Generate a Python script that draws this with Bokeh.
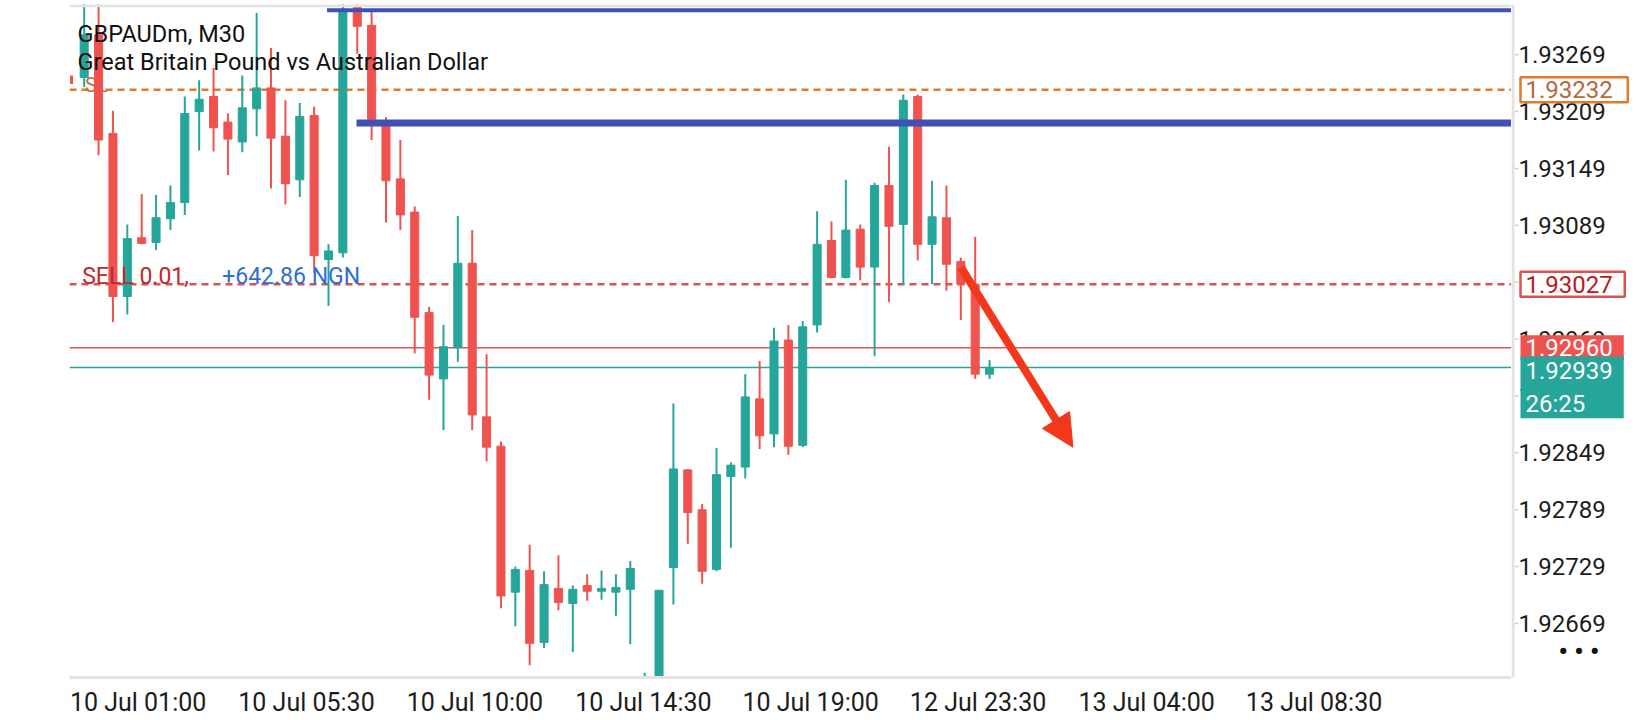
import numpy as np
from bokeh.plotting import figure
from bokeh.layouts import row
from bokeh.models import (Range1d, FixedTicker, Span, Label, Arrow, NormalHead,
                          ColumnDataSource)
from bokeh.core.properties import value
from bokeh.embed import file_html
from bokeh.resources import INLINE

# ---------------- data ----------------
opens = [1.93245, 1.93290, 1.93186, 1.93014, 1.93076, 1.93071, 1.93096, 1.93113,
         1.93209, 1.93225, 1.93198, 1.93177, 1.93212, 1.93234, 1.93183, 1.93137,
         1.93205, 1.93053, 1.93060, 1.93319, 1.93300, 1.93196, 1.93138, 1.93103,
         1.92997, 1.92927, 1.92960, 1.93049, 1.92887, 1.92856, 1.92702, 1.92725,
         1.92649, 1.92706, 1.92690, 1.92709, 1.92703, 1.92702, 1.92705, 1.92560,
         1.92590, 1.92728, 1.92831, 1.92789, 1.92726, 1.92824, 1.92834, 1.92906,
         1.92869, 1.92968, 1.92857, 1.92984, 1.93073, 1.93034, 1.93085, 1.93045,
         1.93131, 1.93090, 1.93225, 1.93069, 1.93097, 1.93051, 1.93027, 1.92932]
highs = [1.93325, 1.93325, 1.93210, 1.93090, 1.93122, 1.93121, 1.93131, 1.93225,
         1.93242, 1.93255, 1.93207, 1.93247, 1.93313, 1.93276, 1.93221, 1.93218,
         1.93214, 1.93069, 1.93326, 1.93326, 1.93314, 1.93203, 1.93179, 1.93109,
         1.93003, 1.92984, 1.93099, 1.93084, 1.92953, 1.92861, 1.92729, 1.92752,
         1.92724, 1.92741, 1.92709, 1.92721, 1.92725, 1.92721, 1.92735, 1.92617,
         1.92704, 1.92901, 1.92832, 1.92795, 1.92854, 1.92839, 1.92932, 1.92946,
         1.92981, 1.92984, 1.92988, 1.93104, 1.93093, 1.93137, 1.93090, 1.93134,
         1.93172, 1.93227, 1.93227, 1.93136, 1.93131, 1.93055, 1.93077, 1.92947]
lows = [1.93235, 1.93163, 1.92987, 1.92995, 1.93069, 1.93063, 1.93084, 1.93100,
        1.93168, 1.93167, 1.93142, 1.93166, 1.93183, 1.93128, 1.93111, 1.93119,
        1.93039, 1.93004, 1.93055, 1.93270, 1.93179, 1.93092, 1.93084, 1.92954,
        1.92905, 1.92873, 1.92945, 1.92873, 1.92840, 1.92685, 1.92666, 1.92625,
        1.92643, 1.92683, 1.92639, 1.92693, 1.92694, 1.92677, 1.92647, 1.92540,
        1.92560, 1.92689, 1.92753, 1.92711, 1.92724, 1.92749, 1.92822, 1.92853,
        1.92855, 1.92847, 1.92855, 1.92976, 1.93033, 1.93033, 1.93031, 1.92951,
        1.93008, 1.93026, 1.93052, 1.93027, 1.93020, 1.92989, 1.92927, 1.92927]
closes = [1.93290, 1.93179, 1.93014, 1.93075, 1.93070, 1.93097, 1.93113, 1.93207,
          1.93222, 1.93192, 1.93180, 1.93213, 1.93234, 1.93181, 1.93133, 1.93204,
          1.93057, 1.93062, 1.93317, 1.93299, 1.93201, 1.93136, 1.93100, 1.92992,
          1.92931, 1.92961, 1.93049, 1.92889, 1.92855, 1.92698, 1.92726, 1.92648,
          1.92710, 1.92691, 1.92705, 1.92703, 1.92706, 1.92707, 1.92727, 1.92600,
          1.92704, 1.92832, 1.92786, 1.92724, 1.92826, 1.92836, 1.92908, 1.92867,
          1.92967, 1.92856, 1.92982, 1.93069, 1.93034, 1.93084, 1.93045, 1.93131,
          1.93088, 1.93221, 1.93069, 1.93098, 1.93048, 1.93027, 1.92932, 1.92939]

x_tick_labels = ["10 Jul 01:00", "10 Jul 05:30", "10 Jul 10:00", "10 Jul 14:30",
                 "10 Jul 19:00", "12 Jul 23:30", "13 Jul 04:00", "13 Jul 08:30"]
x_label_start = [-1.02, 10.70, 22.42, 34.14, 45.78, 57.43, 69.16, 80.81]   # bar index where each label starts
y_tick_labels = ["1.92669", "1.92729", "1.92789", "1.92849", "1.92909", "1.92969",
                 "1.93029", "1.93089", "1.93149", "1.93209", "1.93269"]

sl_price = 1.93232       # orange dashed (SL)
open_price = 1.93027     # red dashed (SELL entry)
ask_price = 1.92960
bid_price = 1.92939
timer_text = "26:25"
trade_text = "SELL 0.01,"
profit_text = "+642.86 NGN"
level_start = [16.9, 18.95]        # bar index where the drawn levels begin
level_price = [1.93316, 1.93197]
arrow_from = (61.0, 1.93045)
arrow_to = (68.8, 1.92855)

# ---------------- styles / layout ----------------
TEAL = "#26a69a"
RED = "#ef5350"
BLUE = "#3f51b5"
ORANGE = "#e07b2c"
GRID = "#e3e3e3"
FONT = "Roboto"
Y0, Y1 = 1.92612, 1.93322
H = 719
TOP, BOTTOM = 4, 34
FRAME_H = H - TOP - BOTTOM
PX = FRAME_H / (Y1 - Y0)       # pixels per price unit

o = np.array(opens); h = np.array(highs); l = np.array(lows); c = np.array(closes)
xs = np.arange(len(o))
col = np.where(c >= o, TEAL, RED)
src = ColumnDataSource(dict(x=xs, high=h, low=l, top=np.maximum(o, c),
                            bottom=np.minimum(o, c), color=col))

yr = Range1d(Y0, Y1)
p = figure(width=1511, height=H, output_backend="svg", toolbar_location=None,
           x_range=Range1d(-1.023, 99.32), y_range=yr, y_axis_location=None,
           min_border_left=69, min_border_right=0, min_border_top=TOP,
           min_border_bottom=BOTTOM, background_fill_color="white",
           border_fill_color="white")
p.outline_line_color = None
p.xgrid.visible = False
p.ygrid.visible = False

def style_xaxis(fig, ticks, overrides, alpha=1.0):
    ax = fig.xaxis[0]
    ax.ticker = FixedTicker(ticks=ticks, minor_ticks=[])
    ax.major_label_overrides = overrides
    ax.major_tick_line_color = None
    ax.minor_tick_line_color = None
    ax.major_label_text_font = FONT
    ax.major_label_text_font_size = "25px"
    ax.major_label_text_color = "#1c1c1c"
    ax.major_label_text_alpha = alpha
    ax.major_label_standoff = 4

centers = [s + 4.77 for s in x_label_start]
style_xaxis(p, centers, {cx: lab for cx, lab in zip(centers, x_tick_labels)})
p.xaxis.axis_line_color = GRID
p.xaxis.axis_line_width = 3

# top border
p.add_layout(Span(location=Y1 - 1.2 / PX, dimension="width", line_color=GRID, line_width=3))

# price lines (under the candles)
p.add_layout(Span(location=sl_price, dimension="width", line_color=ORANGE, line_width=2.5,
                  line_dash="7 5", level="underlay"))
p.add_layout(Span(location=open_price, dimension="width", line_color="#e0504d", line_width=2.5,
                  line_dash="7 5", level="underlay"))
p.add_layout(Span(location=ask_price, dimension="width", line_color="#e35452", line_width=1.5,
                  level="underlay"))
p.add_layout(Span(location=bid_price, dimension="width", line_color=TEAL, line_width=1.5,
                  level="underlay"))

# SL marker (mostly hidden behind candles)
p.segment(x0=[-0.88], x1=[-0.88], y0=[1.93247], y1=[1.93238], line_color=RED, line_width=3)
p.text(x=[0.05], y=[1.93237], text=["SL"], text_font=value(FONT), text_font_size="20px",
       text_color="#b8733e", text_baseline="alphabetic")

# candles
p.segment(x0="x", x1="x", y0="low", y1="high", line_color="color", line_width=2, source=src)
p.vbar(x="x", width=0.56, top="top", bottom="bottom", fill_color="color", line_color="color",
       line_width=1, source=src)

# drawn horizontal levels (blue)
p.ray(x=[level_start[0]], y=[level_price[0]], length=0, angle=0, line_color=BLUE, line_width=4)
p.ray(x=[level_start[1]], y=[level_price[1]], length=0, angle=0, line_color=BLUE, line_width=7)

# red arrow
AR = "#f2371b"
p.add_layout(Arrow(end=NormalHead(size=32, fill_color=AR, line_color=AR),
                   x_start=arrow_from[0], y_start=arrow_from[1],
                   x_end=arrow_to[0], y_end=arrow_to[1],
                   line_color=AR, line_width=8))

# texts
p.add_layout(Label(x=8, y=FRAME_H - 37.7, x_units="screen", y_units="screen",
                   text="GBPAUDm, M30", text_font=FONT, text_font_size="23.5px",
                   text_color="#111111", text_baseline="alphabetic"))
p.add_layout(Label(x=8, y=FRAME_H - 65.3, x_units="screen", y_units="screen",
                   text="Great Britain Pound vs Australian Dollar", text_font=FONT,
                   text_font_size="23.5px", text_color="#111111", text_baseline="alphabetic"))
p.add_layout(Label(x=12.7, y=open_price, y_offset=8, x_units="screen",
                   text=trade_text, text_font=FONT, text_font_size="23px",
                   text_color="#c0282d", text_baseline="alphabetic"))
p.add_layout(Label(x=152.7, y=open_price, y_offset=8, x_units="screen",
                   text=profit_text, text_font=FONT, text_font_size="23px",
                   text_color="#2f6fd0", text_baseline="alphabetic"))

# ---------------- price scale panel ----------------
q = figure(width=121, height=H, output_backend="svg", toolbar_location=None,
           x_range=Range1d(0, 121), y_range=yr, y_axis_location=None,
           min_border_left=0, min_border_right=0, min_border_top=TOP,
           min_border_bottom=BOTTOM, background_fill_color="white",
           border_fill_color="white")
q.outline_line_color = None
q.xgrid.visible = False
q.ygrid.visible = False
style_xaxis(q, [60], {60: x_tick_labels[0]}, alpha=0.0)
q.xaxis.axis_line_color = None

yt = [float(t) for t in y_tick_labels]
q.add_layout(Span(location=1.5, dimension="height", line_color=GRID, line_width=3))
q.segment(x0=3, x1=7, y0=yt, y1=yt, line_color="#cfcfcf", line_width=1.5)
q.text(x=7, y=yt, text=y_tick_labels, text_font=value(FONT), text_font_size="24px",
       text_color="#1c1c1c", text_baseline="middle", text_align="left")

BX = 9.0
def box(txt, y, tcol, bg, border=None, right=12, yoff=0, baseline="middle", pad=4):
    lab = Label(x=BX, y=y, y_offset=yoff, text=txt, text_font=FONT,
                text_font_size="24px", text_color=tcol, text_baseline=baseline,
                text_align="left", background_fill_color=bg,
                padding=dict(left=5, right=right, top=pad, bottom=pad))
    if border:
        lab.border_line_color = border
        lab.border_line_width = 2.5
    else:
        lab.border_line_color = None
    q.add_layout(lab)

box(f"{sl_price:.5f}", sl_price, "#b5693b", "white", ORANGE, right=15)
box(f"{open_price:.5f}", open_price, "#b71c1c", "white", "#d9534f", right=12)
box(f"{ask_price:.5f}", ask_price, "white", RED, right=11)
box(f"{bid_price:.5f}\n{timer_text}", bid_price, "white", TEAL, right=11, yoff=11,
    baseline="top", pad=0)

q.add_layout(Label(x=47, y=1.92640, text="• • •", text_font=FONT, text_font_size="26px",
                   text_font_style="bold", text_color="#111111", text_baseline="middle"))

layout = row(p, q)
open("out.html", "w").write(file_html(layout, INLINE))
